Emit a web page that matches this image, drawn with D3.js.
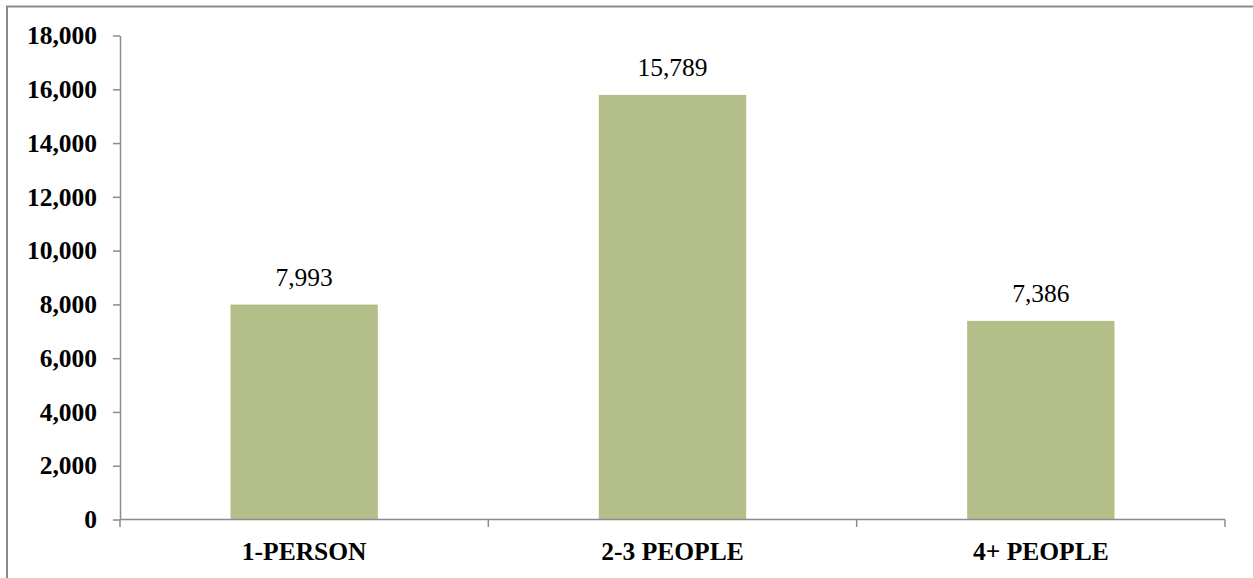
<!DOCTYPE html>
<html>
<head>
<meta charset="utf-8">
<script src="https://cdn.jsdelivr.net/npm/d3@7"></script>
<style>
  html, body { margin: 0; padding: 0; background: #fff; }
  svg { display: block; }
  svg text { font-family: "Liberation Serif", "Times New Roman", Times, "DejaVu Serif", serif; font-size: 25.5px; fill: #000; }
  svg text.bold { font-weight: bold; }
</style>
</head>
<body>
<svg id="chart" width="1253" height="578"></svg>
<script>
// Household size categories and their counts
const categories = ["1-PERSON", "2-3 PEOPLE", "4+ PEOPLE"];
const values = [7993, 15789, 7386];
const yTicks = [0, 2000, 4000, 6000, 8000, 10000, 12000, 14000, 16000, 18000];

const svg = d3.select("#chart");
const W = 1253, H = 578;

// Outer frame
svg.append("rect")
  .attr("x", 7).attr("y", 6.5)
  .attr("width", W + 10).attr("height", H + 10)
  .attr("fill", "#fff")
  .attr("stroke", "#8a8a8a")
  .attr("stroke-width", 2);

const plot = { left: 120, right: 1225, top: 35.5, bottom: 519.5 };

const x = d3.scaleBand()
  .domain(categories)
  .range([plot.left, plot.right])
  .paddingInner(0.6)
  .paddingOuter(0.3);

const y = d3.scaleLinear()
  .domain([0, 18000])
  .range([plot.bottom, plot.top]);

const fmt = d3.format(",");
const axisColor = "#8c8c8c";

// Bars
svg.append("g").selectAll("rect")
  .data(values)
  .join("rect")
  .attr("x", (d, i) => x(categories[i]))
  .attr("y", d => y(d))
  .attr("width", x.bandwidth())
  .attr("height", d => y(0) - y(d))
  .attr("fill", "#b4be89");

// Value labels
svg.append("g").selectAll("text")
  .data(values)
  .join("text")
  .attr("x", (d, i) => x(categories[i]) + x.bandwidth() / 2)
  .attr("y", d => y(d) - 18.5)
  .attr("text-anchor", "middle")
  .text(d => fmt(d));

// Y axis
const yAxis = svg.append("g")
  .attr("transform", `translate(${plot.left},0)`)
  .call(d3.axisLeft(y).tickValues(yTicks).tickFormat(fmt).tickSize(7).tickSizeOuter(0).tickPadding(16))
  .attr("font-family", null).attr("font-size", null);
yAxis.select(".domain").attr("stroke", axisColor).attr("stroke-width", 1.5);
yAxis.selectAll(".tick line").attr("stroke", axisColor).attr("stroke-width", 1.5);
yAxis.selectAll(".tick text").attr("class", "bold").attr("fill", null);

// X axis: ticks sit on the band boundaries
const bounds = [plot.left].concat(categories.map(c => x(c) + x.bandwidth() + x.step() * x.paddingInner() / 2));
bounds[bounds.length - 1] = plot.right;
const xg = svg.append("g");
xg.append("line")
  .attr("x1", plot.left).attr("x2", plot.right)
  .attr("y1", y(0)).attr("y2", y(0))
  .attr("stroke", axisColor).attr("stroke-width", 1.5);
xg.selectAll("line.tick")
  .data(bounds)
  .join("line")
  .attr("class", "tick")
  .attr("x1", d => d).attr("x2", d => d)
  .attr("y1", y(0)).attr("y2", y(0) + 7.5)
  .attr("stroke", axisColor).attr("stroke-width", 1.5);
xg.selectAll("text")
  .data(categories)
  .join("text")
  .attr("class", "bold")
  .attr("x", d => x(d) + x.bandwidth() / 2)
  .attr("y", y(0) + 40)
  .attr("text-anchor", "middle")
  .text(d => d);
</script>
</body>
</html>
